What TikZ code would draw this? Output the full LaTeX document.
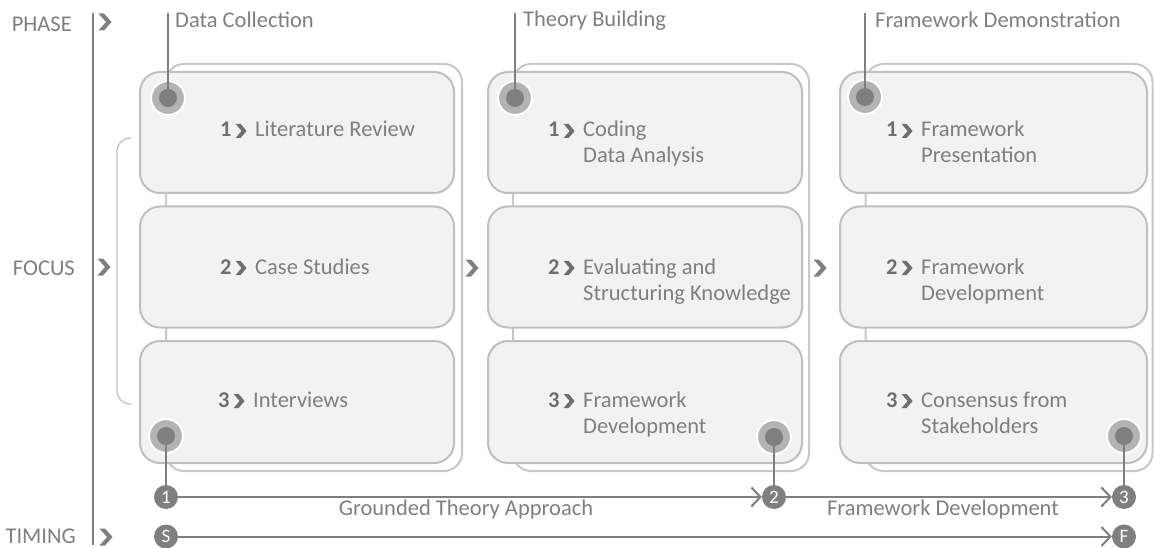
\documentclass[tikz,border=0pt]{standalone}
\usepackage{fontspec}
\setmainfont{Carlito}
\usetikzlibrary{arrows.meta}
\definecolor{tx}{HTML}{7F7F7F}
\definecolor{nmc}{HTML}{6E6E6E}
\definecolor{dc}{HTML}{7F7F7F}
\definecolor{hc}{HTML}{B3B3B3}
\definecolor{fb}{HTML}{BFBFBF}
\definecolor{bb}{HTML}{C8C8C8}
\definecolor{ff}{HTML}{F2F2F2}
\newcommand\chv{\tikz[x=1pt,y=1pt,baseline=1pt]\fill[nmc] (0,0) -- (5,0) -- (11,7) -- (5,14) -- (0,14) -- (6,7) -- cycle;}
\newcommand\bx[2]{\begin{tabular}[t]{@{}l@{}l@{}}\makebox[35pt][l]{\textcolor{nmc}{\bfseries #1}\hspace{4pt}\chv}&#2\end{tabular}}
\begin{document}
\begin{tikzpicture}[x=1pt,y=-1pt,
  font=\fontsize{22.5}{26}\selectfont,
  every node/.style={text=tx},
  backbox/.style={draw=bb,fill=white,line width=2pt,rounded corners=18pt,inner sep=0pt},
  frontbox/.style={draw=fb,fill=ff,line width=2pt,rounded corners=20pt,inner sep=0pt,minimum height=121pt},
  halo/.style={circle,fill=hc,draw=white,line width=2pt,minimum size=34pt,inner sep=0pt},
  numc/.style={circle,fill=dc,text=white,minimum size=24pt,inner sep=0pt,font=\fontsize{19}{19}\selectfont},
  conn/.style={draw=dc,line width=2pt},
  arr/.style={conn,-{Straight Barb[length=9pt,width=19pt]}},
  lbl/.style={anchor=west,inner sep=0pt},
  side/.style={anchor=east,inner sep=0pt},
  btxt/.style={anchor=base west,inner sep=0pt},
  pics/bigchev/.style={code={\fill[tx] (-6.5,-8.5) -- (-1,-8.5) -- (6.5,0) -- (-1,8.5) -- (-6.5,8.5) -- (1,0) -- cycle;}}]
\useasboundingbox (0,0) rectangle (1154,548);

% left axis
\coordinate (axt) at (93,13);
\coordinate (axb) at (93,545);
\draw[conn] (axt) -- (axb);
\node[side] (phase) at (72,24) {PHASE};
\node[side] (focus) at (75,268) {FOCUS};
\node[side] (timing) at (76,536.5) {TIMING};
\pic at (105,22) {bigchev};
\pic at (104,267) {bigchev};
\pic at (106,537) {bigchev};

% bracket
\coordinate (brt) at (131,138);
\coordinate (brb) at (131,404);
\draw[fb,line width=1.2pt,rounded corners=13pt] (brt) -| (117,271) |- (brb);

% back boxes
\node[backbox,minimum width=296pt,minimum height=407pt] (back1) at (314,267.5) {};
\node[backbox,minimum width=296pt,minimum height=407pt] (back2) at (661,267.5) {};
\node[backbox,minimum width=287pt,minimum height=407pt] (back3) at (1009,267.5) {};

% front boxes
\foreach \c/\x/\w in {1/297/314,2/645/314,3/993.5/307}{
  \node[frontbox,minimum width=\w pt] (f\c a) at (\x,132.5) {};
  \node[frontbox,minimum width=\w pt] (f\c b) at (\x,267) {};
  \node[frontbox,minimum width=\w pt,minimum height=122pt] (f\c c) at (\x,402) {};
}

% box texts
\node[btxt] (t1a) at (220,137) {\bx{1}{Literature Review}};
\node[btxt] (t1b) at (220,274) {\bx{2}{Case Studies}};
\node[btxt] (t1c) at (218,407) {\bx{3}{Interviews}};
\node[btxt] (t2a) at (548,137) {\bx{1}{Coding\\&Data Analysis}};
\node[btxt] (t2b) at (548,274) {\bx{2}{Evaluating and\\&Structuring Knowledge}};
\node[btxt] (t2c) at (548,407) {\bx{3}{Framework\\&Development}};
\node[btxt] (t3a) at (886,137) {\bx{1}{Framework\\&Presentation}};
\node[btxt] (t3b) at (886,274) {\bx{2}{Framework\\&Development}};
\node[btxt] (t3c) at (886,407) {\bx{3}{Consensus from\\&Stakeholders}};

% between-column chevrons
\pic at (472,268) {bigchev};
\pic at (820,268) {bigchev};

% phase labels and top markers
\node[lbl] (p1) at (175,20) {Data Collection};
\node[lbl] (p2) at (523,21) {Theory Building};
\node[lbl] (p3) at (875,20) {Framework Demonstration};
\coordinate (pl1) at (168,13);
\coordinate (pl2) at (515,13);
\coordinate (pl3) at (865,13);
\node[halo] (h1) at (168,98) {};
\node[halo] (h2) at (515,98) {};
\node[halo] (h3) at (865,97) {};
\draw[conn] (pl1) -- (h1.center);
\draw[conn] (pl2) -- (h2.center);
\draw[conn] (pl3) -- (h3.center);
\fill[dc] (h1) circle (9);
\fill[dc] (h2) circle (9);
\fill[dc] (h3) circle (9);

% bottom markers
\node[halo] (g1) at (166,436) {};
\node[halo] (g2) at (774,437) {};
\node[halo] (g3) at (1124,436) {};
\node[numc] (n1) at (166,497) {1};
\node[numc] (n2) at (774,497) {2};
\node[numc] (n3) at (1124,497) {3};
\node[numc] (ns) at (166,536.5) {S};
\node[numc] (nf) at (1124,536.5) {F};
\draw[conn] (g1.center) -- (n1);
\draw[conn] (g2.center) -- (n2);
\draw[conn] (g3.center) -- (n3);
\fill[dc] (g1) circle (9);
\fill[dc] (g2) circle (9);
\fill[dc] (g3) circle (9);

\draw[arr] (n1) -- (n2);
\draw[arr] (n2) -- (n3);
\draw[arr] (ns) -- (nf);
\node (l1) at (466,509) {Grounded Theory Approach};
\node (l2) at (943,509) {Framework Development};
\end{tikzpicture}
\end{document}
